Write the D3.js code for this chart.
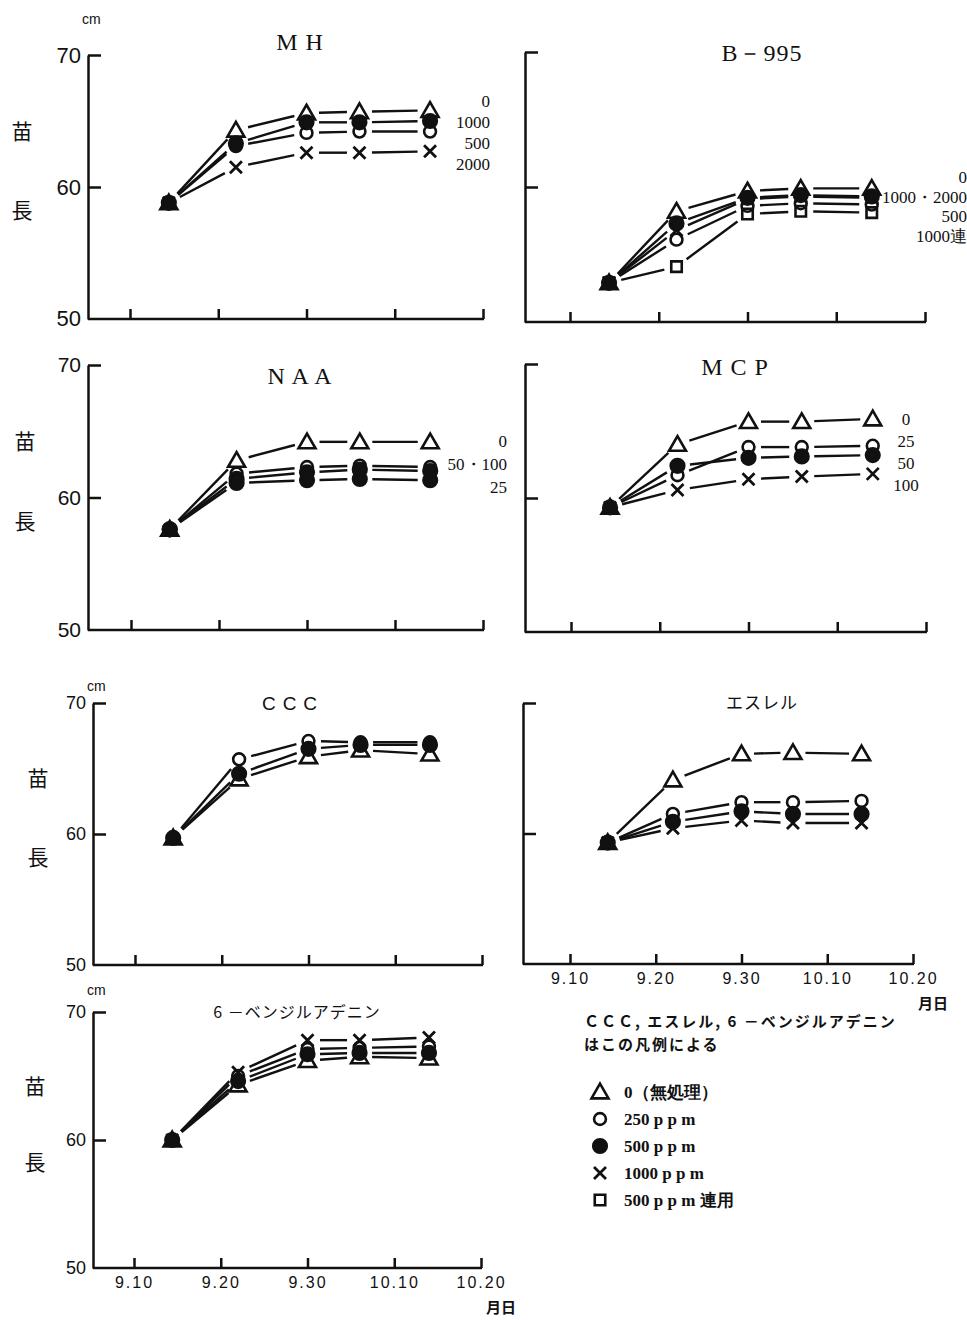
<!DOCTYPE html>
<html>
<head>
<meta charset="utf-8">
<script src="https://cdn.jsdelivr.net/npm/d3@7"></script>
<style>
  body { margin: 0; background: #fff; }
  text { fill: #111; }
</style>
</head>
<body>
<svg id="chart" width="967" height="1320"></svg>
<script>
// days counted from 9.10
var days = [4.4, 12, 20, 26, 34]
var xTicks = [0, 10, 20, 30, 40]
var xTickLabels = ['9.10', '9.20', '9.30', '10.10', '10.20']
var yTicks = [60, 70]

var mhLabels = ['0', '1000', '500', '2000']
var mhSymbols = ['tri', 'dot', 'ring', 'cross']
var mhValues = [
  [58.8, 64.3, 65.6, 65.7, 65.8],
  [58.8, 63.3, 64.9, 64.9, 65.0],
  [58.8, 63.1, 64.1, 64.2, 64.2],
  [58.8, 61.5, 62.6, 62.6, 62.7]
]

var b995Labels = ['0', '1000・2000', '500', '1000連']
var b995Symbols = ['tri', 'dot', 'cross', 'ring', 'square']
var b995Values = [
  [52.9, 58.2, 59.7, 59.9, 59.9],
  [52.9, 57.3, 59.2, 59.4, 59.3],
  [52.9, 56.8, 59.1, 59.3, 59.2],
  [52.9, 56.1, 58.6, 58.8, 58.7],
  [52.9, 54.1, 58.0, 58.2, 58.1]
]

var naaLabels = ['0', '50・100', '25']
var naaSymbols = ['tri', 'ring', 'dot', 'dot']
var naaValues = [
  [57.6, 62.8, 64.2, 64.2, 64.2],
  [57.6, 61.8, 62.3, 62.4, 62.3],
  [57.6, 61.4, 61.9, 62.1, 62.0],
  [57.6, 61.1, 61.3, 61.4, 61.3]
]

var mcpLabels = ['0', '25', '50', '100']
var mcpSymbols = ['tri', 'ring', 'dot', 'cross']
var mcpValues = [
  [59.3, 64.0, 65.7, 65.7, 65.9],
  [59.3, 61.7, 63.8, 63.8, 63.9],
  [59.3, 62.4, 63.0, 63.1, 63.2],
  [59.3, 60.6, 61.4, 61.6, 61.8]
]

var cccSymbols = ['ring', 'dot', 'tri']
var cccValues = [
  [59.7, 65.7, 67.1, 67.0, 67.0],
  [59.7, 64.6, 66.5, 66.8, 66.8],
  [59.7, 64.2, 65.9, 66.4, 66.1]
]

var ethSymbols = ['tri', 'ring', 'dot', 'cross']
var ethValues = [
  [59.3, 64.1, 66.1, 66.2, 66.1],
  [59.3, 61.5, 62.4, 62.4, 62.5],
  [59.3, 60.9, 61.7, 61.5, 61.5],
  [59.3, 60.4, 61.0, 60.8, 60.8]
]

var baSymbols = ['cross', 'ring', 'dot', 'tri']
var baValues = [
  [60.0, 65.3, 67.8, 67.8, 68.0],
  [60.0, 65.0, 67.1, 67.2, 67.3],
  [60.0, 64.6, 66.7, 66.8, 66.8],
  [60.0, 64.3, 66.2, 66.5, 66.4]
]

var legendSymbols = ['tri', 'ring', 'dot', 'cross', 'square']
var legendLabels = ['0（無処理）', '250 p p m', '500 p p m', '1000 p p m', '500 p p m 連用']
var legendNote = ['ＣＣＣ, エスレル, 6 －ベンジルアデニン', 'はこの凡例による']

var serif = '"Liberation Serif", "DejaVu Serif", serif'
var sans = '"Liberation Sans", Arial, sans-serif'
var jp = '"Noto Sans CJK JP", sans-serif'

var panels = [
  { title: 'M H', values: mhValues, symbols: mhSymbols, labels: mhLabels,
    axisX: 88, x0: 130, x1: 483, yTop: 55, yBot: 319, yLabels: true, yFont: 22, cmY: 24,
    titleX: 300, titleY: 50, titleFont: serif, titleSize: 24,
    labelX: 490, labelY: 107, labelDy: 21, labelAnchor: 'end', yCaption: 22 },
  { title: 'B－995', values: b995Values, symbols: b995Symbols, labels: b995Labels,
    axisX: 525, x0: 570, x1: 925, yTop: 52, yBot: 322,
    titleX: 762, titleY: 61, titleFont: serif, titleSize: 24,
    labelX: 967, labelY: 183, labelDy: 19.5, labelAnchor: 'end' },
  { title: 'N A A', values: naaValues, symbols: naaSymbols, labels: naaLabels,
    axisX: 88, x0: 131, x1: 483, yTop: 365, yBot: 630, yLabels: true, yFont: 21,
    titleX: 300, titleY: 384, titleFont: serif, titleSize: 24,
    labelX: 507, labelY: 447, labelDy: 23, labelAnchor: 'end', yCaption: 25 },
  { title: 'M C P', values: mcpValues, symbols: mcpSymbols, labels: mcpLabels,
    axisX: 525, x0: 571, x1: 926, yTop: 364, yBot: 632,
    titleX: 735, titleY: 375, titleFont: serif, titleSize: 24,
    labelX: 906, labelY: 425, labelDy: 22, labelAnchor: 'middle' },
  { title: 'CCC', values: cccValues, symbols: cccSymbols,
    axisX: 93, x0: 135, x1: 482, yTop: 703, yBot: 965, yLabels: true, yFont: 18, cmY: 691,
    titleX: 293, titleY: 710, titleFont: sans, titleSize: 19, yCaption: 38 },
  { title: 'エスレル', values: ethValues, symbols: ethSymbols,
    axisX: 523, x0: 570, x1: 913, yTop: 703, yBot: 964, xLabels: true,
    titleX: 762, titleY: 709, titleFont: jp, titleSize: 17 },
  { title: '6 －ベンジルアデニン', values: baValues, symbols: baSymbols,
    axisX: 93, x0: 134, x1: 481, yTop: 1012, yBot: 1268, yLabels: true, yFont: 18, cmY: 995, xLabels: true,
    titleX: 297, titleY: 1018, titleFont: jp, titleSize: 16, yCaption: 35 }
]

var svg = d3.select('#chart')

function symbolPath (type) {
  if (type === 'cross') {
    return 'M-6,-6L6,6M-6,6L6,-6'
  }
  var shapes = {
    tri: [d3.symbolTriangle, 125],
    ring: [d3.symbolCircle, 110],
    dot: [d3.symbolCircle, 145],
    square: [d3.symbolSquare, 110]
  }
  return d3.symbol().type(shapes[type][0]).size(shapes[type][1])()
}

function drawMarker (g, type, cx, cy) {
  g.append('path')
    .attr('d', symbolPath(type))
    .attr('transform', 'translate(' + cx + ',' + (type === 'tri' ? cy + 1.5 : cy) + ')')
    .attr('fill', type === 'dot' ? '#111' : 'none')
    .attr('stroke', '#111')
    .attr('stroke-width', type === 'cross' ? 2.8 : 2.6)
}

panels.forEach(function (p) {
  var x = d3.scaleLinear().domain([0, 40]).range([p.x0, p.x1])
  var y = d3.scaleLinear().domain([50, 70]).range([p.yBot, p.yTop])
  var g = svg.append('g')

  // y axis
  var yAxis = d3.axisLeft(y)
    .tickValues(yTicks)
    .tickSizeInner(-13)
    .tickSizeOuter(0)
    .tickPadding(7)
    .tickFormat(p.yLabels ? d3.format('d') : '')
  var ya = g.append('g')
    .attr('transform', 'translate(' + p.axisX + ',0)')
    .call(yAxis)
  ya.selectAll('path, line').attr('stroke', '#111').attr('stroke-width', 2.5)
  ya.selectAll('text').attr('font-family', sans).attr('font-size', p.yFont).attr('fill', '#111')
  if (p.yLabels) {
    ya.append('text')
      .attr('x', -7).attr('y', y(50)).attr('dy', '0.32em')
      .attr('text-anchor', 'end')
      .attr('font-family', sans).attr('font-size', p.yFont)
      .text('50')
  }

  // x axis
  var xAxis = d3.axisBottom(x)
    .tickValues(xTicks)
    .tickSizeInner(-10)
    .tickSizeOuter(0)
    .tickPadding(9)
    .tickFormat(function (d, i) { return p.xLabels ? xTickLabels[i] : '' })
  var xa = g.append('g')
    .attr('transform', 'translate(0,' + p.yBot + ')')
    .call(xAxis)
  xa.select('.domain').remove()
  xa.selectAll('line').attr('stroke', '#111').attr('stroke-width', 2.5)
  xa.selectAll('text').attr('font-family', sans).attr('font-size', 16)
    .attr('letter-spacing', 2).attr('fill', '#111')
  g.append('line')
    .attr('x1', p.axisX).attr('x2', x(40) + 1)
    .attr('y1', p.yBot).attr('y2', p.yBot)
    .attr('stroke', '#111').attr('stroke-width', 2.5)

  if (p.xLabels) {
    g.append('text')
      .attr('x', x(40) + 20).attr('y', p.yBot + 45)
      .attr('text-anchor', 'middle')
      .attr('font-family', jp).attr('font-size', 15).attr('font-weight', 'bold')
      .text('月日')
  }

  if (p.cmY) {
    g.append('text')
      .attr('x', p.axisX - 6).attr('y', p.cmY)
      .attr('font-family', sans).attr('font-size', 14)
      .text('cm')
  }

  if (p.yCaption) {
    g.append('text')
      .attr('x', p.yCaption).attr('y', y(64.2))
      .attr('text-anchor', 'middle').attr('dy', '0.35em')
      .attr('font-family', jp).attr('font-size', 21)
      .text('苗')
    g.append('text')
      .attr('x', p.yCaption).attr('y', y(58.2))
      .attr('text-anchor', 'middle').attr('dy', '0.35em')
      .attr('font-family', jp).attr('font-size', 21)
      .text('長')
  }

  g.append('text')
    .attr('x', p.titleX).attr('y', p.titleY)
    .attr('text-anchor', 'middle')
    .attr('font-family', p.titleFont).attr('font-size', p.titleSize)
    .attr('letter-spacing', p.titleFont === sans ? 7 : 1)
    .text(p.title)

  // series lines, drawn with a gap at each marker
  var gap = 12.5
  p.values.forEach(function (vals) {
    for (var i = 0; i < vals.length - 1; i++) {
      var ax = x(days[i]), ay = y(vals[i])
      var bx = x(days[i + 1]), by = y(vals[i + 1])
      var len = Math.sqrt((bx - ax) * (bx - ax) + (by - ay) * (by - ay))
      var ux = (bx - ax) / len, uy = (by - ay) / len
      g.append('line')
        .attr('x1', ax + ux * gap).attr('y1', ay + uy * gap)
        .attr('x2', bx - ux * gap).attr('y2', by - uy * gap)
        .attr('stroke', '#111').attr('stroke-width', 2.4)
    }
  })

  p.values.forEach(function (vals, s) {
    vals.forEach(function (v, i) {
      drawMarker(g, p.symbols[s], x(days[i]), y(v))
    })
  })

  if (p.labels) {
    g.selectAll('.series-label').data(p.labels)
      .enter().append('text')
        .attr('class', 'series-label')
        .attr('x', p.labelX)
        .attr('y', function (d, i) { return p.labelY + i * p.labelDy })
        .attr('text-anchor', p.labelAnchor)
        .attr('font-family', serif).attr('font-size', 17)
        .text(function (d) { return d })
  }
})

// legend
var lg = svg.append('g')
lg.selectAll('.note').data(legendNote)
  .enter().append('text')
    .attr('class', 'note')
    .attr('x', 584)
    .attr('y', function (d, i) { return 1027 + i * 23 })
    .attr('font-family', jp).attr('font-size', 15).attr('font-weight', 'bold')
    .attr('letter-spacing', 2)
    .text(function (d) { return d })

legendSymbols.forEach(function (s, i) {
  drawMarker(lg, s, 600, 1092 + i * 27)
})
lg.selectAll('.item').data(legendLabels)
  .enter().append('text')
    .attr('class', 'item')
    .attr('x', 624)
    .attr('y', function (d, i) { return 1092 + i * 27 })
    .attr('dy', '0.35em')
    .attr('font-family', serif).attr('font-size', 17).attr('font-weight', 'bold')
    .text(function (d) { return d })
</script>
</body>
</html>
